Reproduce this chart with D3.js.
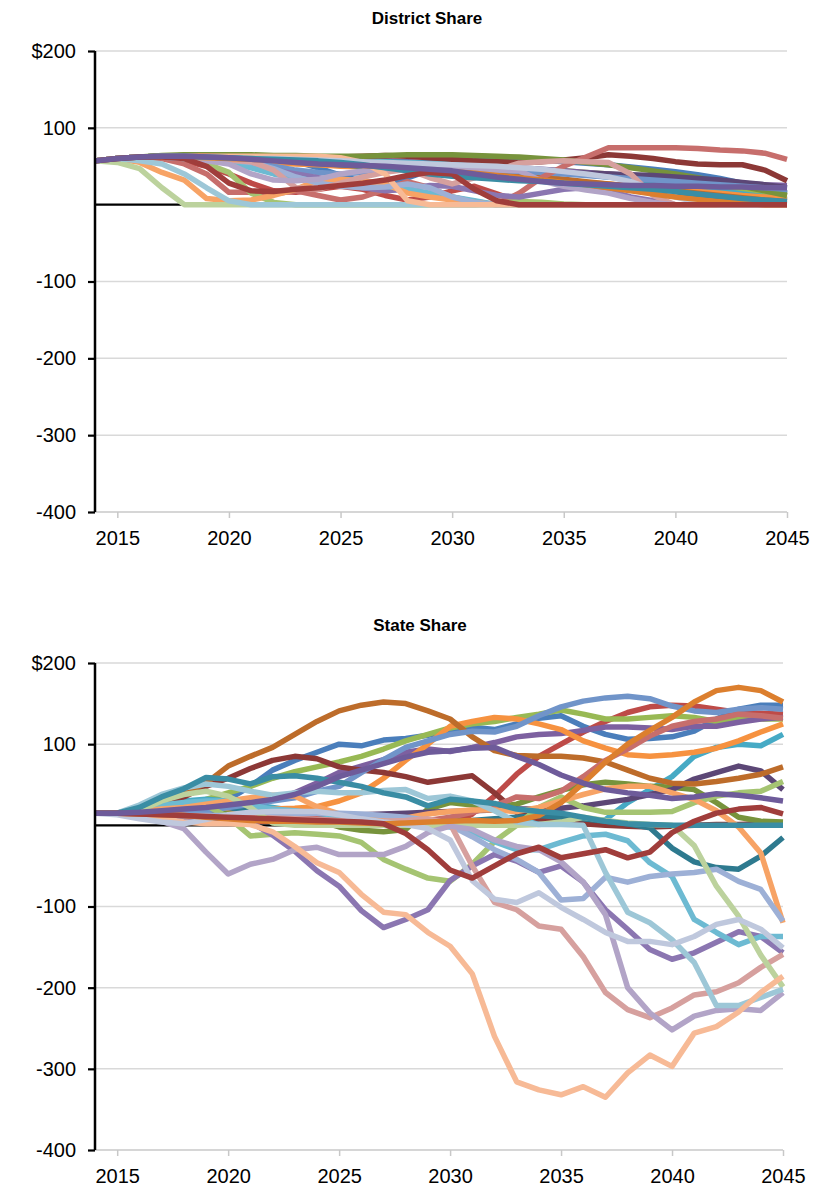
<!DOCTYPE html>
<html>
<head>
<meta charset="utf-8">
<script src="https://cdn.jsdelivr.net/npm/d3@7"></script>
<style>
  body { margin: 0; background: #ffffff; }
  text { font-family: "Liberation Sans", Arial, Helvetica, sans-serif; fill: #000; }
</style>
</head>
<body>
<svg id="chart" width="819" height="1191"></svg>
<script>
// ---- categories / ticks ----
const years = [2014, 2015, 2016, 2017, 2018, 2019, 2020, 2021, 2022, 2023, 2024, 2025, 2026, 2027, 2028, 2029,
               2030, 2031, 2032, 2033, 2034, 2035, 2036, 2037, 2038, 2039, 2040, 2041, 2042, 2043, 2044, 2045];
const xTicks = [2015, 2020, 2025, 2030, 2035, 2040, 2045];
const yTicks = [200, 100, 0, -100, -200, -300, -400];
const yTickLabels = ["$200", "100", "", "-100", "-200", "-300", "-400"];

// ---- series colours (draw order, first = bottom) ----
const seriesColors = [
  "#4A7EBB", "#BE4B48", "#98B954", "#7D60A0", "#46AAC5", "#F69240", "#8C3836",
  "#77933C", "#5C4776", "#2E7A8F", "#BD6C2A", "#7094C9", "#C76E6C", "#A5C472",
  "#8B76B1", "#6DBAD2", "#F7A365", "#9DB0D6", "#D6A09E", "#BCD29D", "#B2A4C7",
  "#9DC7D7", "#F7BA96", "#BFC8DD", "#DC7F2E", "#3A8DA4", "#A03D3B", "#6E5B9A"
];

// ---- District Share ($ per unit) ----
const dBlue        = [57,60,62,63,64,64,63,62,60,56,48,38,30,28,35,45,55,63,62,60,58,56,54,52,49,46,43,39,34,28,22,15];
const dRed         = [57,60,62,61,57,50,40,28,18,16,20,24,20,12,6,10,18,24,14,4,0,0,0,0,0,0,0,0,0,0,0,0];
const dGreen       = [57,60,62,63,64,64,63,62,61,60,58,56,54,52,51,50,49,48,47,46,45,44,42,40,37,34,31,27,23,19,15,12];
const dPurple      = [57,60,62,63,64,64,64,63,62,61,60,59,58,57,56,55,54,52,50,48,46,44,42,40,38,36,34,32,30,28,26,25];
const dAqua        = [57,60,62,63,63,63,62,62,61,60,59,58,57,56,55,54,53,51,49,47,45,42,39,36,33,30,26,22,18,14,10,6];
const dOrange      = [57,60,61,60,59,58,57,56,54,53,52,50,49,47,46,44,42,40,38,35,33,31,29,27,24,22,20,17,15,12,10,8];
const dDarkRed     = [57,60,62,63,63,63,62,61,60,60,61,62,63,64,63,61,59,57,56,55,56,58,61,65,63,60,56,53,52,52,45,31];
const dOlive       = [57,60,62,64,65,65,65,65,64,64,63,63,63,64,65,65,65,64,63,62,60,58,55,52,48,44,40,35,30,24,18,12];
const dDarkPurple  = [57,60,62,63,63,63,62,61,60,59,58,57,56,54,52,50,48,46,45,44,43,42,41,40,39,38,36,34,32,29,26,22];
const dDarkTeal    = [57,60,62,63,63,62,61,60,58,56,54,52,50,48,46,44,42,40,38,36,33,30,27,24,21,18,15,12,9,6,3,1];
const dCopper      = [57,60,62,63,63,63,62,61,60,58,56,54,52,50,48,46,44,42,40,38,36,33,30,27,24,21,18,15,12,9,6,4];
const dPeriwinkle  = [57,60,62,62,61,60,58,55,50,45,42,40,42,45,47,48,48,47,45,43,42,40,38,36,34,32,30,28,26,24,22,20];
const dLightRed    = [57,60,62,60,53,40,16,16,14,18,12,6,10,20,30,22,10,4,0,15,35,50,62,74,74,74,74,73,71,70,67,59];
const dGreen2      = [57,60,62,62,60,53,42,15,3,0,0,0,0,0,0,0,0,0,2,4,3,1,0,0,0,0,0,0,0,0,0,0];
const dPurpleP     = [57,60,62,62,60,58,55,50,45,40,35,30,22,18,20,25,24,18,12,10,15,20,22,18,10,5,0,0,0,0,0,0];
const dLightAqua   = [57,60,62,62,61,58,54,48,40,35,30,28,26,24,20,15,10,5,0,0,0,0,0,0,0,0,0,0,0,0,0,0];
const dLightOrange = [57,60,55,42,32,8,5,6,12,20,32,33,31,27,15,10,6,3,0,0,0,0,0,0,0,0,0,0,0,0,0,0];
const dPeriLight   = [57,60,62,62,61,60,58,55,47,36,28,24,22,23,27,22,10,3,0,0,0,0,0,0,0,0,0,0,0,0,0,0];
const dDustyRose   = [57,60,62,62,61,60,58,56,45,22,20,28,36,42,46,35,27,35,45,54,56,57,56,55,40,12,0,0,0,0,0,0];
const dPaleGreen   = [57,55,47,22,0,0,0,0,0,0,0,0,0,0,0,0,0,0,0,0,0,0,0,0,0,0,0,0,0,0,0,0];
const dLightPurple = [57,60,62,62,60,57,53,40,32,31,33,40,44,47,48,48,47,46,45,44,31,24,19,15,8,3,0,0,0,0,0,0];
const dLightBlue   = [57,60,57,53,40,22,5,0,0,0,0,0,0,0,0,0,0,0,0,0,0,0,0,0,0,0,0,0,0,0,0,0];
const dSalmon      = [57,60,62,63,63,63,63,63,63,63,63,61,55,40,5,0,0,0,0,0,0,0,0,0,0,0,0,0,0,0,0,0];
const dGrayBlue    = [57,60,62,62,62,61,61,60,60,59,58,57,56,55,54,53,52,51,50,48,46,43,40,36,30,20,10,3,0,0,0,0];
const dDarkOrange  = [57,60,62,62,62,61,60,59,58,57,55,53,51,49,47,45,43,41,38,35,32,29,26,22,18,14,10,7,4,2,0,0];
const dTeal        = [57,60,62,63,63,62,61,60,59,58,57,55,52,48,44,40,37,35,33,31,30,28,26,24,22,20,17,14,11,8,6,4];
const dRed2        = [57,60,62,62,60,50,28,18,17,20,22,25,28,32,38,42,40,20,5,0,0,0,0,0,0,0,0,0,0,0,0,0];
const dPurpleB     = [57,60,62,63,63,62,61,59,57,55,53,52,51,50,48,46,44,40,36,33,30,28,27,26,25,25,24,24,23,23,22,22];

// ---- State Share ($ per unit) ----
const sBlue        = [15,15,18,20,20,22,32,48,68,80,90,100,98,105,107,111,116,121,118,125,132,135,122,112,106,107,109,116,131,143,148,148];
const sRed         = [15,15,13,11,9,7,6,5,5,6,7,8,6,4,3,1,0,14,36,63,85,100,115,128,139,146,148,147,143,139,138,137];
const sGreen       = [15,15,18,22,26,32,40,48,58,66,72,78,85,94,104,112,120,125,128,133,137,142,137,131,131,133,135,133,128,131,131,131];
const sPurple      = [15,15,16,18,20,22,25,28,33,40,52,65,73,81,90,94,91,96,102,109,112,113,117,121,121,120,118,122,122,127,131,133];
const sAqua        = [15,15,20,26,30,32,30,26,22,18,15,12,10,8,6,5,5,4,4,3,3,2,4,7,28,44,60,85,96,100,98,112];
const sOrange      = [15,15,15,16,16,17,18,19,20,21,23,30,40,58,80,100,122,128,133,131,125,118,104,95,87,85,87,90,95,104,115,125];
const sDarkRed     = [15,15,18,25,35,48,58,70,80,85,82,72,68,65,60,53,57,61,40,16,8,4,2,0,-1,-2,-1,0,1,1,2,2];
const sOlive       = [15,15,17,18,18,16,14,12,10,8,6,-2,-6,-8,-5,20,28,25,23,26,35,43,50,53,51,48,47,44,28,10,5,4];
const sDarkPurple  = [15,15,14,13,12,12,12,12,12,12,12,12,13,14,15,16,17,18,19,20,20,21,24,28,32,38,44,57,65,73,67,44];
const sDarkTeal    = [15,15,18,20,22,24,22,18,14,10,8,6,5,5,4,4,5,6,8,10,12,10,8,5,2,-3,-28,-45,-52,-54,-38,-15];
const sCopper      = [15,15,22,30,40,52,73,85,96,112,128,141,148,152,150,141,131,109,92,86,85,85,83,78,68,58,52,51,54,58,63,72];
const sPeriwinkle  = [15,15,14,14,15,18,22,26,30,34,42,48,65,81,96,104,112,116,115,122,135,146,153,157,159,156,147,141,139,143,145,143];
const sLightRed    = [15,15,14,13,12,11,10,10,10,9,8,7,6,5,4,6,10,16,24,35,33,42,60,80,94,110,122,128,131,137,135,132];
const sGreen2      = [15,15,18,22,26,25,10,-13,-11,-9,-11,-13,-21,-42,-54,-65,-69,-48,-20,0,22,35,22,16,16,16,17,28,36,40,42,54];
const sPurpleP     = [15,15,12,10,8,6,5,4,-12,-32,-56,-75,-105,-126,-116,-104,-68,-50,-36,-44,-58,-50,-70,-104,-128,-153,-165,-157,-144,-131,-137,-157];
const sLightAqua   = [15,15,20,25,28,30,30,25,20,18,15,12,8,5,4,2,-2,-8,-20,-30,-30,-21,-13,-11,-19,-46,-63,-116,-132,-147,-137,-137];
const sLightOrange = [15,15,17,20,22,26,30,34,37,36,23,14,9,7,9,14,17,19,19,17,22,30,38,45,48,48,40,32,18,-2,-34,-120];
const sPeriLight   = [15,15,14,13,12,12,12,12,13,14,15,15,14,12,10,6,0,-14,-30,-42,-58,-92,-90,-64,-70,-63,-60,-58,-54,-69,-79,-118];
const sDustyRose   = [15,15,14,13,12,11,10,10,9,8,7,6,5,5,6,8,2,-50,-95,-104,-124,-128,-162,-206,-227,-237,-225,-209,-205,-194,-175,-159];
const sPaleGreen   = [15,15,18,30,38,42,36,22,3,0,0,0,0,0,0,0,0,0,0,0,1,4,10,6,3,1,0,-25,-75,-112,-160,-199];
const sLightPurple = [15,15,10,5,-4,-33,-60,-48,-42,-30,-27,-36,-36,-36,-26,-9,-1,-5,-18,-26,-30,-45,-70,-110,-200,-231,-252,-235,-228,-226,-228,-206];
const sLightBlue   = [15,15,25,38,46,51,48,42,37,40,42,40,40,43,44,33,36,30,18,4,1,1,0,-58,-107,-120,-141,-169,-222,-222,-212,-202];
const sSalmon      = [15,15,12,8,4,2,2,1,-8,-26,-46,-58,-85,-107,-110,-132,-149,-183,-260,-316,-326,-332,-322,-335,-305,-283,-297,-256,-248,-230,-206,-186];
const sGrayBlue    = [15,13,8,4,2,7,13,16,17,17,17,13,8,4,1,-4,-18,-68,-91,-95,-83,-101,-116,-132,-143,-143,-147,-137,-122,-116,-128,-151];
const sDarkOrange  = [15,15,14,13,12,10,8,6,5,5,4,4,3,2,3,4,5,6,5,6,12,28,52,78,100,117,133,152,166,170,166,152];
const sTeal        = [15,15,22,35,45,59,57,51,60,61,58,53,48,40,35,24,32,30,27,20,17,15,10,5,2,1,0,0,0,0,0,0];
const sRed2        = [15,15,14,13,12,11,10,9,8,7,6,5,4,2,-10,-30,-55,-65,-50,-35,-27,-40,-35,-30,-40,-33,-9,5,15,20,22,14];
const sPurpleB     = [15,15,16,18,20,22,25,28,32,38,48,60,68,76,84,90,92,95,96,85,75,62,52,44,40,37,33,35,39,37,34,30];

const districtSeries = [dBlue, dRed, dGreen, dPurple, dAqua, dOrange, dDarkRed, dOlive, dDarkPurple, dDarkTeal,
  dCopper, dPeriwinkle, dLightRed, dGreen2, dPurpleP, dLightAqua, dLightOrange, dPeriLight, dDustyRose,
  dPaleGreen, dLightPurple, dLightBlue, dSalmon, dGrayBlue, dDarkOrange, dTeal, dRed2, dPurpleB];
const stateSeries = [sBlue, sRed, sGreen, sPurple, sAqua, sOrange, sDarkRed, sOlive, sDarkPurple, sDarkTeal,
  sCopper, sPeriwinkle, sLightRed, sGreen2, sPurpleP, sLightAqua, sLightOrange, sPeriLight, sDustyRose,
  sPaleGreen, sLightPurple, sLightBlue, sSalmon, sGrayBlue, sDarkOrange, sTeal, sRed2, sPurpleB];

const svg = d3.select("#chart");

function drawPanel(title, seriesList, box) {
  const g = svg.append("g");
  const x = d3.scaleLinear().domain([years[0], years[years.length - 1]]).range([box.left, box.right]);
  const y = d3.scaleLinear().domain([-400, 200]).range([box.bottom, box.top]);

  // title
  g.append("text")
    .attr("x", box.titleX).attr("y", box.titleY)
    .attr("text-anchor", "middle").attr("dominant-baseline", "middle")
    .style("font-size", "17px").style("font-weight", "bold")
    .text(title);

  // horizontal gridlines
  g.selectAll("line.grid")
    .data(yTicks.filter(v => v !== 0))
    .join("line").attr("class", "grid")
    .attr("x1", box.left).attr("x2", box.right)
    .attr("y1", d => y(d)).attr("y2", d => y(d))
    .attr("stroke", d => d === -400 ? "#C8C8C8" : "#D9D9D9")
    .attr("stroke-width", 1.5);

  // bottom axis ticks and labels
  const xAxis = d3.axisBottom(x).tickValues(xTicks).tickFormat(d3.format("d")).tickSize(6).tickPadding(13);
  const xa = g.append("g").attr("transform", `translate(0,${y(-400)})`).call(xAxis);
  xa.select(".domain").remove();
  xa.selectAll(".tick line").attr("stroke", "#C8C8C8").attr("stroke-width", 1.5);
  xa.selectAll(".tick text")
    .style("font-size", "20px")
    .style("font-family", "'Liberation Sans', Arial, Helvetica, sans-serif")
    .attr("fill", "#000");

  // zero line (black horizontal axis)
  g.append("line")
    .attr("x1", box.left).attr("x2", box.right)
    .attr("y1", y(0)).attr("y2", y(0))
    .attr("stroke", "#000").attr("stroke-width", 2.2);

  // series lines
  const line = d3.line().x((d, i) => x(years[i])).y(d => y(d));
  g.append("g").selectAll("path")
    .data(seriesList)
    .join("path")
    .attr("d", line)
    .attr("fill", "none")
    .attr("stroke", (d, i) => seriesColors[i])
    .attr("stroke-width", 5.5)
    .attr("stroke-linejoin", "round")
    .attr("stroke-linecap", "butt");

  // left axis
  const yAxis = d3.axisLeft(y).tickValues(yTicks)
    .tickFormat((d, i) => yTickLabels[i]).tickSize(7).tickPadding(12);
  const ya = g.append("g").attr("transform", `translate(${box.left},0)`).call(yAxis);
  ya.select(".domain").attr("stroke", "#000").attr("stroke-width", 2.5)
    .attr("d", `M0,${y(200)}V${y(-400)}`);
  ya.selectAll(".tick line").attr("stroke", "#000").attr("stroke-width", 2.2)
    .attr("display", d => d === 0 ? "none" : null);
  ya.selectAll(".tick text")
    .style("font-size", "20px")
    .style("font-family", "'Liberation Sans', Arial, Helvetica, sans-serif")
    .attr("fill", "#000");
}

drawPanel("District Share", districtSeries,
  { left: 95, right: 787, top: 51, bottom: 512, titleX: 427, titleY: 20 });
drawPanel("State Share", stateSeries,
  { left: 95, right: 783, top: 663, bottom: 1150, titleX: 420, titleY: 627 });
</script>
</body>
</html>
